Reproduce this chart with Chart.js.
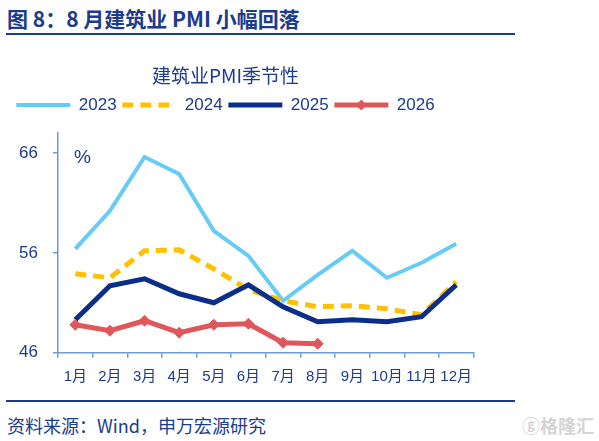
<!DOCTYPE html>
<html>
<head>
<meta charset="utf-8">
<script src="https://cdn.jsdelivr.net/npm/chart.js@4/dist/chart.umd.min.js"></script>
<style>
  html, body { margin:0; padding:0; background:#fff; width:599px; height:441px; overflow:hidden; position:relative; }
  #title { position:absolute; left:7px; top:5px; font:bold 21px 'Noto Sans CJK SC'; color:#1B3B8C; line-height:27px; white-space:nowrap; }
  .rule { position:absolute; left:6px; width:509px; height:2px; background:#1B3B8C; }
  #src { position:absolute; left:7px; top:413px; font:18px 'Noto Sans CJK SC'; color:#1B3B8C; line-height:24px; white-space:nowrap; }
  #wm { position:absolute; left:522px; top:413px; font:bold 18px 'Noto Sans CJK SC'; color:#d4d4d4; line-height:24px; white-space:nowrap; }
  #wrap { position:absolute; left:-29px; top:45px; width:509px; height:350px; }
</style>
</head>
<body>
<div id="title">图 8：8 月建筑业 PMI 小幅回落</div>
<div class="rule" style="top:33px"></div>
<div id="wrap"><canvas id="c"></canvas></div>
<div class="rule" style="top:400px"></div>
<div id="src">资料来源：Wind，申万宏源研究</div>
<div id="wm">ⓖ格隆汇</div>
<script>
const months = ['1月','2月','3月','4月','5月','6月','7月','8月','9月','10月','11月','12月'];
const v2023 = [56.4,60.2,65.6,63.9,58.2,55.7,51.2,53.8,56.2,53.5,55.0,56.9];
const v2024 = [53.9,53.5,56.2,56.3,54.4,52.3,51.2,50.6,50.7,50.4,49.8,53.1];
const v2025 = [49.3,52.7,53.4,51.9,51.0,52.8,50.6,49.1,49.3,49.1,49.6,52.8];
const v2026 = [48.8,48.2,49.2,48.0,48.8,48.9,47.0,46.9];
const seriesNames = ['2023','2024','2025','2026'];
const yTicks = [46,56,66];
const chartTitle = '建筑业PMI季节性';

const navy = '#1B3B8C';
const axisColor = '#6E9BD3';
const latin = "'Liberation Sans', 'Noto Sans CJK SC', sans-serif";

const extras = {
  id: 'extras',
  afterDraw(chart) {
    const ctx = chart.ctx;
    const area = chart.chartArea;
    ctx.save();
    ctx.fillStyle = navy;
    ctx.font = "19px " + latin;
    ctx.textAlign = 'left';
    ctx.textBaseline = 'middle';
    ctx.fillText('%', area.left + 16, area.top + 25);
    const lg = chart.legend;
    if (lg && lg.legendHitBoxes && lg.legendHitBoxes[3]) {
      const hb = lg.legendHitBoxes[3];
      const bw = lg.options.labels.pointStyleWidth;
      ctx.fillStyle = '#E0575B';
      ctx.strokeStyle = '#E0575B';
      Chart.helpers.drawPoint(ctx, {pointStyle:'rectRot', radius:5, rotation:0, borderWidth:1}, hb.left + bw/2, hb.top + hb.height/2);
    }
    ctx.restore();
  }
};

new Chart(document.getElementById('c'), {
  type: 'line',
  data: {
    labels: months,
    datasets: [
      { label: seriesNames[0], data: v2023, borderColor: '#66CCF7', backgroundColor: '#66CCF7', borderWidth: 4, pointRadius: 0, tension: 0, order: 4 },
      { label: seriesNames[1], data: v2024, borderColor: '#FFC000', backgroundColor: '#FFC000', borderWidth: 5, borderDash: [11,7], pointRadius: 0, tension: 0, order: 3 },
      { label: seriesNames[2], data: v2025, borderColor: '#0B2E8A', backgroundColor: '#0B2E8A', borderWidth: 5, pointRadius: 0, tension: 0, order: 2 },
      { label: seriesNames[3], data: v2026, borderColor: '#E0575B', backgroundColor: '#E0575B', borderWidth: 5, pointRadius: 5.5, pointStyle: 'rectRot', pointBorderWidth: 1, tension: 0, order: 1 }
    ]
  },
  options: {
    responsive: true,
    maintainAspectRatio: false,
    animation: false,
    devicePixelRatio: 1,
    layout: { padding: 0 },
    plugins: {
      tooltip: { enabled: false },
      title: {
        display: true, text: chartTitle, color: navy,
        font: { family: "'Noto Sans CJK SC'", size: 19, weight: 'normal' },
        padding: { top: 19, bottom: 4 }
      },
      subtitle: {
        display: true, text: '', weight: 500,
        font: { size: 1 }, padding: { top: 8.3, bottom: 0 }
      },
      legend: {
        display: true, position: 'top',
        labels: {
          usePointStyle: true, pointStyle: 'line', pointStyleWidth: 54,
          color: navy, padding: 5.7,
          font: { family: latin, size: 17 },
          generateLabels(chart) {
            return chart.data.datasets.map((ds, i) => ({
              text: ds.label,
              datasetIndex: i,
              fillStyle: ds.borderColor,
              strokeStyle: ds.borderColor,
              lineWidth: ds.borderWidth,
              lineDash: ds.borderDash || [],
              lineCap: 'butt',
              pointStyle: 'line',
              fontColor: navy,
              hidden: false
            }));
          }
        }
      }
    },
    scales: {
      x: {
        offset: true,
        grid: { offset: true, drawOnChartArea: false, drawTicks: true, tickLength: 5, color: axisColor, lineWidth: 1.5 },
        border: { display: true, color: axisColor, width: 1.5 },
        ticks: { color: navy, font: { family: latin, size: 15 }, autoSkip: false, maxRotation: 0, padding: 10 },
        afterFit(s) { s.height = 42.3; s.paddingLeft = 0; s.paddingRight = 0; }
      },
      y: {
        min: 46, max: 68,
        afterBuildTicks(s) { s.ticks = yTicks.map(v => ({ value: v })); },
        grid: { drawOnChartArea: false, drawTicks: true, tickLength: 5, color: axisColor, lineWidth: 1.5 },
        border: { display: true, color: axisColor, width: 1.5 },
        ticks: { color: navy, font: { family: latin, size: 17 }, padding: 15 },
        afterFit(s) { s.width = 87; }
      }
    }
  },
  plugins: [extras]
});
</script>
</body>
</html>
